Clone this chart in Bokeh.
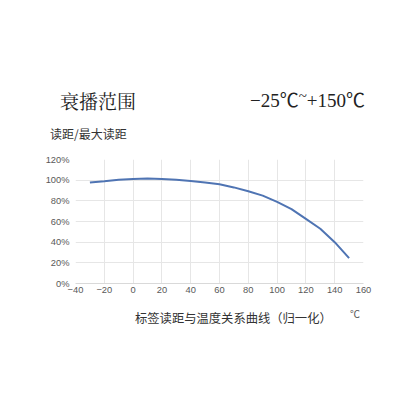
from bokeh.plotting import figure
from bokeh.models import NumeralTickFormatter, FixedTicker, Range1d, Div
from bokeh.layouts import column
from bokeh.embed import file_html
from bokeh.resources import INLINE

temps = [-30, -20, -10, 0, 10, 20, 30, 40, 50, 60, 70, 80, 90, 100, 110, 120, 130, 140, 150]
ratio = [0.977, 0.99, 1.005, 1.012, 1.015, 1.012, 1.003, 0.993, 0.978, 0.96, 0.93, 0.893, 0.85, 0.79, 0.72, 0.625, 0.53, 0.40, 0.245]
x_ticks = [-40, -20, 0, 20, 40, 60, 80, 100, 120, 140, 160]
y_ticks = [0, 0.2, 0.4, 0.6, 0.8, 1.0, 1.2]

title_left = "衰播范围"
title_right_a = "−25℃"
title_right_b = "~"
title_right_c = "+150℃"
y_title = "读距/最大读距"
x_title = "标签读距与温度关系曲线（归一化）"
x_unit = "℃"

W = 404
HEAD = 145
FIG_H = 160
FOOT = 40

p = figure(width=W, height=FIG_H, output_backend="svg", toolbar_location=None,
           x_range=Range1d(-40, 160), y_range=Range1d(0, 1.2),
           min_border_left=75, min_border_right=W - 363,
           min_border_top=159 - HEAD, min_border_bottom=HEAD + FIG_H - 283)
p.outline_line_color = None
p.line(temps, ratio, line_color="#4f74b3", line_width=2)

for ax in (p.xaxis, p.yaxis):
    ax.axis_line_color = None
    ax.major_tick_line_color = None
    ax.minor_tick_line_color = None
    ax.major_tick_out = 0
    ax.major_tick_in = 0
    ax.minor_tick_out = 0
    ax.major_label_text_font_size = "7pt"
    ax.major_label_text_color = "#595959"
    ax.major_label_text_font = "Liberation Sans"
p.xaxis.axis_line_color = "#d9d9d9"
p.xaxis.ticker = FixedTicker(ticks=x_ticks)
p.yaxis.ticker = FixedTicker(ticks=y_ticks)
p.yaxis.formatter = NumeralTickFormatter(format="0%")
p.xaxis.major_label_standoff = 3
p.yaxis.major_label_standoff = 6
p.xgrid.grid_line_color = "#e6e6e6"
p.ygrid.grid_line_color = "#e6e6e6"

def span(text, left, top, size, font, color):
    return (f'<span style="position:absolute;left:{left}px;top:{top}px;white-space:nowrap;'
            f'font-size:{size}px;line-height:1;font-family:{font};color:{color}">{text}</span>')

serif_cjk = "'Noto Serif CJK SC','Liberation Serif','Noto Sans CJK SC',serif"
serif = "'Liberation Serif','Noto Sans CJK SC',serif"
right_title = (title_right_a
               + f'<span style="position:relative;top:-6px;font-size:15px">{title_right_b}</span>'
               + title_right_c)
head_html = ('<div style="position:relative;width:%dpx;height:%dpx">' % (W, HEAD)
             + span(title_left, 60, 91, 19, serif_cjk, "#222")
             + span(right_title, 250, 91, 19, serif, "#222")
             + span(y_title, 50, 128, 12, "'Noto Sans CJK SC',sans-serif", "#333")
             + '</div>')
foot_html = ('<div style="position:relative;width:%dpx;height:%dpx">' % (W, FOOT)
             + span(x_title, 135, 7, 12.3, "'Noto Sans CJK SC',sans-serif", "#333")
             + span(x_unit, 350, 5, 10, serif, "#555")
             + '</div>')

head = Div(text=head_html, width=W, height=HEAD, margin=0)
foot = Div(text=foot_html, width=W, height=FOOT, margin=0)
layout = column(head, p, foot, spacing=0)

open("out.html", "w").write(file_html(layout, INLINE))
